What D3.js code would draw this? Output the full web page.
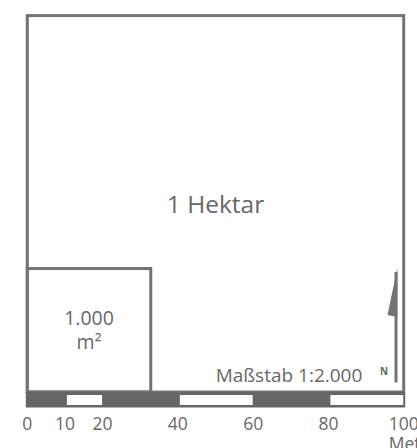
<!DOCTYPE html>
<html>
<head>
<meta charset="utf-8">
<script src="https://cdn.jsdelivr.net/npm/d3@7"></script>
<style>
  html, body { margin: 0; padding: 0; background: #fff; }
  svg { display: block; }
  text { font-family: "Open Sans", sans-serif; fill: #686868; }
</style>
</head>
<body>
<div id="chart"></div>
<script>
// ---- data ----
const squareLabels = [["1 Hektar"], ["1.000", "m²"]];
const squareSides = [100, 32.8];            // side length in meters
const scaleTicks = [0, 10, 20, 40, 60, 80, 100];
const scaleUnit = "Meter";
const whiteSegments = [[10, 20], [40, 60], [80, 100]];
const scaleCaption = "Maßstab 1:2.000";
const northLabel = "N";

// ---- layout ----
const W = 417, H = 448;
const lineColor = "#737373", barColor = "#666666";
const svg = d3.select("#chart").append("svg").attr("width", W).attr("height", H);

const x = d3.scaleLinear().domain([0, 100]).range([27.3, 403.7]);
const y = d3.scaleLinear().domain([0, 100]).range([392, 15.6]);

// squares
svg.selectAll("rect.sq").data(squareSides).join("rect")
  .attr("class", "sq")
  .attr("x", x(0)).attr("y", d => y(d))
  .attr("width", d => x(d) - x(0)).attr("height", d => y(0) - y(d))
  .attr("fill", "none").attr("stroke", lineColor).attr("stroke-width", 3);

// square labels
const fontSizes = [24.5, 19.5];
const lineGap = [0, 24];
squareSides.forEach((s, i) => {
  const cx = (x(0) + x(s)) / 2;
  const cy = (y(0) + y(s)) / 2;
  const lines = squareLabels[i];
  const t = svg.append("text").attr("text-anchor", "middle")
    .attr("font-size", fontSizes[i]);
  const n = lines.length;
  lines.forEach((l, j) => {
    t.append("tspan").attr("x", cx)
      .attr("y", cy + fontSizes[i] * 0.36 + (j - (n - 1) / 2) * lineGap[i])
      .text(l);
  });
});

// scale bar
const barTop = y(0), barBot = y(0) + 15.5;
svg.append("rect").attr("x", x(0) - 1.5).attr("y", barTop)
  .attr("width", x(100) - x(0) + 3).attr("height", barBot - barTop)
  .attr("fill", barColor);
svg.selectAll("rect.seg").data(whiteSegments).join("rect")
  .attr("class", "seg")
  .attr("x", d => x(d[0]) + 2).attr("y", barTop + 3)
  .attr("width", d => x(d[1]) - x(d[0]) - 2.5).attr("height", barBot - barTop - 5.5)
  .attr("fill", "#fff");

// tick labels
const tickG = svg.append("g").attr("font-size", 17.5);
tickG.selectAll("text").data(scaleTicks).join("text")
  .attr("x", d => x(d)).attr("y", 430)
  .attr("text-anchor", "middle").text(d => d);
const lastLabel = tickG.selectAll("text").filter(d => d === 100).node();
const lastW = lastLabel.getComputedTextLength();
tickG.append("text").attr("x", x(100) - lastW / 2).attr("y", 450)
  .attr("text-anchor", "start").text(scaleUnit);

// caption
svg.append("text").attr("x", 289).attr("y", 382)
  .attr("text-anchor", "middle").attr("font-size", 19).text(scaleCaption);

// north arrow
const ax = 396;
svg.append("line").attr("x1", ax).attr("x2", ax).attr("y1", 272).attr("y2", 382.5)
  .attr("stroke", lineColor).attr("stroke-width", 3);
svg.append("path")
  .attr("d", `M${ax + 1.3},268 L${ax - 8.5},315 L${ax + 1.3},317 Z`)
  .attr("fill", lineColor);
svg.append("text").attr("x", 384).attr("y", 374.5)
  .attr("text-anchor", "middle").attr("font-size", 10).attr("font-weight", "bold")
  .text(northLabel);
</script>
</body>
</html>
